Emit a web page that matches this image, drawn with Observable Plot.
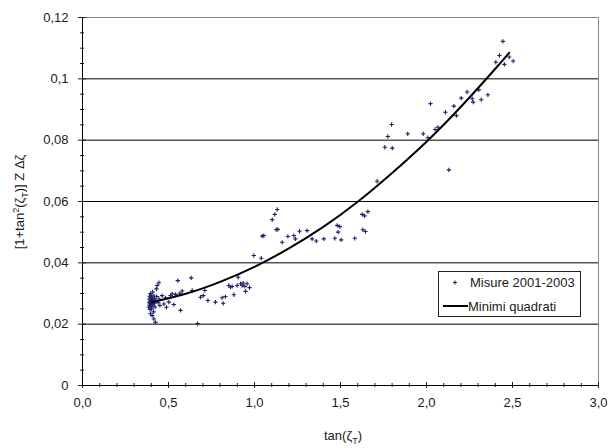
<!DOCTYPE html>
<html><head><meta charset="utf-8">
<script src="https://cdn.jsdelivr.net/npm/d3@7"></script>
<script src="https://cdn.jsdelivr.net/npm/@observablehq/plot@0.6"></script>
<style>
body{margin:0;background:#fff;}
#chart svg{font-family:"Liberation Sans",Arial,sans-serif;}
</style>
</head><body><div id="chart"></div>
<script>
const measX = [0.385,0.387,0.388,0.390,0.390,0.392,0.393,0.395,0.395,0.396,0.398,0.398,0.400,0.400,0.402,0.403,0.405,0.405,0.407,0.408,0.410,0.412,0.413,0.415,0.416,0.418,0.420,0.422,0.424,0.425,0.430,0.432,0.434,0.440,0.444,0.445,0.450,
0.463,0.473,0.483,0.488,0.502,0.512,0.521,0.531,0.541,0.554,0.566,0.570,0.580,0.632,0.638,0.686,0.669,0.711,
0.702,0.729,0.773,0.812,0.818,0.831,0.851,0.860,0.870,0.880,0.899,0.905,0.919,0.928,0.934,0.944,0.948,0.957,0.971,
0.996,1.039,1.045,1.054,1.103,1.118,1.126,1.132,1.135,1.161,1.194,1.229,1.238,1.262,1.306,1.335,1.359,1.403,1.467,1.481,1.486,1.496,1.504,1.583,
1.626,1.640,1.659,1.630,1.645,1.713,1.758,1.775,1.797,1.801,1.891,1.981,2.008,
2.023,2.050,2.066,2.110,2.130,2.159,2.174,2.202,2.236,2.266,2.271,2.304,2.318,2.357,2.403,2.424,2.444,2.453,2.481,2.504];
const measY = [0.0255,0.0270,0.0282,0.0262,0.0291,0.0248,0.0275,0.0234,0.0300,0.0268,0.0285,0.0258,0.0277,0.0295,0.0250,0.0265,0.0228,0.0288,0.0272,0.0305,0.0260,0.0280,0.0240,0.0217,0.0292,0.0268,0.0283,0.0256,0.0206,0.0275,0.0315,0.0290,0.0326,0.0270,0.0335,0.0282,0.0261,
0.0293,0.0266,0.0286,0.0255,0.0272,0.0293,0.0299,0.0264,0.0297,0.0342,0.0301,0.0245,0.0308,0.0351,0.0310,0.0288,0.0202,0.0310,
0.0293,0.0277,0.0272,0.0286,0.0268,0.0290,0.0326,0.0321,0.0323,0.0296,0.0326,0.0353,0.0332,0.0326,0.0334,0.0323,0.0307,0.0332,0.0319,
0.0424,0.0415,0.0487,0.0489,0.0541,0.0558,0.0508,0.0574,0.0509,0.0467,0.0486,0.0489,0.0478,0.0503,0.0505,0.0478,0.0471,0.0478,0.0480,0.0522,0.0500,0.0518,0.0475,0.0480,
0.0558,0.0553,0.0567,0.0508,0.0502,0.0666,0.0777,0.0812,0.0851,0.0774,0.0821,0.0821,0.0808,
0.0919,0.0835,0.0842,0.0891,0.0703,0.0911,0.0880,0.0937,0.0957,0.0935,0.0924,0.0964,0.0932,0.0948,0.1054,0.1076,0.1122,0.1047,0.1071,0.1058];

// Least-squares curve
const fitX = [0.40,0.60,0.80,1.00,1.20,1.40,1.60,1.80,2.00,2.20,2.40,2.48];
const fitY = [0.0271,0.0299,0.0338,0.0387,0.0447,0.0517,0.0599,0.0693,0.0795,0.0909,0.1033,0.1085];

// Ticks
const xMajor = [0,0.5,1,1.5,2,2.5,3];
const xTickLabels = ["0,0","0,5","1,0","1,5","2,0","2,5","3,0"];
const xMinor = [0.1,0.2,0.3,0.4,0.6,0.7,0.8,0.9,1.1,1.2,1.3,1.4,1.6,1.7,1.8,1.9,2.1,2.2,2.3,2.4,2.6,2.7,2.8,2.9];
const yMajor = [0,0.02,0.04,0.06,0.08,0.1,0.12];
const yTickLabels = ["0","0,02","0,04","0,06","0,08","0,1","0,12"];
const yMinor = [0.005,0.01,0.015,0.025,0.03,0.035,0.045,0.05,0.055,0.065,0.07,0.075,0.085,0.09,0.095,0.105,0.11,0.115];
const yGrid = [0.02,0.04,0.06,0.08,0.1];

const meas = measX.map((x,i)=>({x, y: measY[i]}));
const fit = fitX.map((x,i)=>({x, y: fitY[i]}));
const navy = "#1f1f6b";
const blank = () => "";

const plot = Plot.plot({
  width: 615, height: 448,
  marginLeft: 82, marginRight: 17, marginTop: 17, marginBottom: 63,
  x: {domain: [0,3]},
  y: {domain: [0,0.12]},
  style: {fontFamily: "Liberation Sans, Arial, sans-serif", fontSize: "13px", color: "#1a1a1a", background: "#fff"},
  marks: [
    Plot.ruleY(yGrid, {stroke: "#000", strokeWidth: 1}),
    Plot.ruleY([0.12], {stroke: "#8a8a8a"}),
    Plot.ruleX([3], {stroke: "#8a8a8a"}),
    Plot.axisX(xMinor, {tickSize: 4, dy: -2, tickFormat: blank, label: null}),
    Plot.axisX(xMajor, {tickSize: 6, dy: -3, tickFormat: blank, label: null}),
    Plot.axisX(xMajor, {tickSize: 0, tickPadding: 12, tickFormat: d => xTickLabels[xMajor.indexOf(d)], label: null, fontSize: 13}),
    Plot.axisY(yMinor, {tickSize: 4, dx: 2, tickFormat: blank, label: null}),
    Plot.axisY(yMajor, {tickSize: 8, dx: 4, tickFormat: blank, label: null}),
    Plot.axisY(yMajor, {tickSize: 0, tickPadding: 14, tickFormat: d => yTickLabels[yMajor.indexOf(d)], label: null, fontSize: 13}),
    Plot.ruleX([0], {stroke: "#000"}),
    Plot.ruleY([0], {stroke: "#000"}),
    Plot.dot(meas, {x: "x", y: "y", symbol: "plus", r: 1.5, stroke: navy, strokeWidth: 1.1}),
    Plot.line(fit, {x: "x", y: "y", curve: "natural", stroke: "#000", strokeWidth: 2})
  ]
});
document.getElementById("chart").appendChild(plot);

const svg = d3.select(plot);
// Y axis title
const yt = svg.append("text")
  .attr("transform", "translate(24,202) rotate(-90)")
  .attr("text-anchor", "middle")
  .attr("font-size", 13)
  .attr("fill", "#1a1a1a");
yt.append("tspan").text("[1+tan");
yt.append("tspan").attr("dy", -5).attr("font-size", 9).text("2");
yt.append("tspan").attr("dy", 5).text("(ζ");
yt.append("tspan").attr("dy", 4).attr("font-size", 9).text("T");
yt.append("tspan").attr("dy", -4).text(")] Z Δζ");

// X axis title
const xt = svg.append("text")
  .attr("x", 343).attr("y", 440)
  .attr("text-anchor", "middle")
  .attr("font-size", 13)
  .attr("fill", "#1a1a1a");
xt.append("tspan").text("tan(ζ");
xt.append("tspan").attr("dy", 4).attr("font-size", 9).text("T");
xt.append("tspan").attr("dy", -4).text(")");

// Legend
const lg = svg.append("g").attr("text-anchor", "start");
lg.append("rect").attr("x", 438.5).attr("y", 271.5).attr("width", 142).attr("height", 45)
  .attr("fill", "#fff").attr("stroke", "#222").attr("stroke-width", 1);
lg.append("path").attr("d", "M453,282.5h4M455,280.5v4").attr("stroke", navy).attr("stroke-width", 1.1);
lg.append("text").attr("x", 470).attr("y", 286.5).attr("text-anchor", "start").attr("font-size", 13).attr("fill", "#1a1a1a").text("Misure 2001-2003");
lg.append("line").attr("x1", 443).attr("x2", 468).attr("y1", 306).attr("y2", 306).attr("stroke", "#000").attr("stroke-width", 2);
lg.append("text").attr("x", 468).attr("y", 310.5).attr("text-anchor", "start").attr("font-size", 13).attr("fill", "#1a1a1a").text("Minimi quadrati");
</script>
</body></html>
